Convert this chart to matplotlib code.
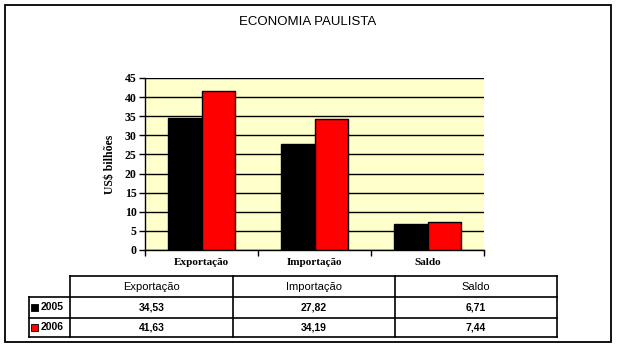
import matplotlib
matplotlib.use("Agg")
import matplotlib.pyplot as plt
from matplotlib.patches import Rectangle
from matplotlib.lines import Line2D
import numpy as np

title = "ECONOMIA PAULISTA"
categories = ["Exportação", "Importação", "Saldo"]
years = ["2005", "2006"]
values_2005 = [34.53, 27.82, 6.71]
values_2006 = [41.63, 34.19, 7.44]
labels_2005 = ["34,53", "27,82", "6,71"]
labels_2006 = ["41,63", "34,19", "7,44"]
colors = ["#000000", "#ff0000"]
yticks = [0, 5, 10, 15, 20, 25, 30, 35, 40, 45]

W, H = 617, 348
fig = plt.figure(figsize=(W / 100, H / 100), dpi=100)
fig.patch.set_facecolor("white")

def fx(x):
    return x / W

def fy(y):
    return 1 - y / H

# outer frame
fig.add_artist(Rectangle((fx(5), fy(342)), fx(611) - fx(5), fy(5) - fy(342),
                         transform=fig.transFigure, fill=False, edgecolor="black", lw=1.3))

fig.text(fx(308), fy(22), title, ha="center", va="center",
         family="Liberation Sans", fontsize=9.5)

# axes
ax = fig.add_axes([fx(145), fy(250), fx(484) - fx(145), fy(78) - fy(250)])
ax.set_facecolor("#ffffcc")
x = np.arange(len(categories))
w = 0.3
ax.bar(x - w / 2, values_2005, w, color=colors[0], edgecolor="black", lw=1, zorder=3)
ax.bar(x + w / 2, values_2006, w, color=colors[1], edgecolor="black", lw=1, zorder=3)
ax.set_xlim(-0.5, len(categories) - 0.5)
ax.set_ylim(0, 45)
ax.set_yticks(yticks)
ax.yaxis.grid(True, color="black", lw=1, zorder=1)
ax.set_axisbelow(True)
for s in ["top", "right"]:
    ax.spines[s].set_visible(False)
ax.spines["left"].set_linewidth(1)
ax.spines["bottom"].set_linewidth(1)
ax.set_xticks(x)
ax.set_xticklabels(categories, family="Liberation Serif", fontweight="bold", fontsize=8)
ax.tick_params(axis="x", length=0, pad=6)
ax.set_xticks(np.arange(-0.5, len(categories)), minor=True)
ax.tick_params(axis="x", which="minor", length=4, width=1, direction="out")
ax.tick_params(axis="y", length=4, width=1, pad=2)
for lab in ax.get_yticklabels():
    lab.set_family("Liberation Serif")
    lab.set_fontweight("bold")
    lab.set_fontsize(8.5)
ax.set_ylabel("US$ bilhões", family="Liberation Serif", fontweight="bold", fontsize=8.5, labelpad=6)

# data table
col_x = [70, 233, 395, 557]
row_y = [276, 297, 318, 337]
lw = 1.2
def hline(y, x0, x1):
    fig.add_artist(Line2D([fx(x0), fx(x1)], [fy(y), fy(y)], transform=fig.transFigure, color="black", lw=lw))
def vline(x0, y0, y1):
    fig.add_artist(Line2D([fx(x0), fx(x0)], [fy(y0), fy(y1)], transform=fig.transFigure, color="black", lw=lw))

hline(row_y[0], col_x[0], col_x[-1])
for y in row_y[1:]:
    hline(y, 29, col_x[-1])
vline(29, row_y[1], row_y[-1])
for cx in col_x:
    vline(cx, row_y[0], row_y[-1])

tfont = dict(family="Liberation Sans", fontsize=7.5, fontweight="bold", ha="center", va="center")
for i, c in enumerate(categories):
    cx = (col_x[i] + col_x[i + 1]) / 2
    fig.text(fx(cx), fy((row_y[0] + row_y[1]) / 2), c, family="Liberation Sans", fontsize=8,
             ha="center", va="center")
    fig.text(fx(cx), fy((row_y[1] + row_y[2]) / 2), labels_2005[i], **tfont)
    fig.text(fx(cx), fy((row_y[2] + row_y[3]) / 2), labels_2006[i], **tfont)

for r, (yr, col) in enumerate(zip(years, colors)):
    cy = (row_y[r + 1] + row_y[r + 2]) / 2
    fig.add_artist(Rectangle((fx(31), fy(cy + 3.5)), fx(7), fy(0) - fy(7),
                             transform=fig.transFigure, facecolor=col, edgecolor="black", lw=0.6))
    fig.text(fx(41), fy(cy), yr, family="Liberation Sans", fontsize=7.5, fontweight="bold",
             ha="left", va="center")

fig.savefig("out.png", dpi=100)
